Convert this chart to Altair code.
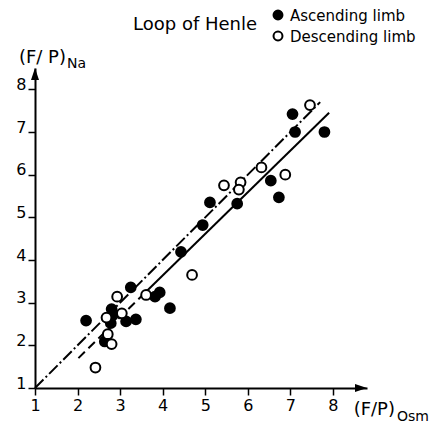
import altair as alt
import pandas as pd

# Ascending limb (filled circles)
asc_x = [2.20, 3.25, 2.80, 2.83, 2.78, 3.14, 3.37, 3.82, 3.93, 4.17, 2.64,
         4.43, 4.94, 5.11, 5.75, 6.54, 6.73, 7.05, 7.11, 7.80]
asc_y = [2.58, 3.36, 2.85, 2.71, 2.52, 2.56, 2.61, 3.14, 3.24, 2.87, 2.09,
         4.19, 4.82, 5.35, 5.32, 5.86, 5.47, 7.42, 7.00, 7.00]

# Descending limb (open circles)
desc_x = [2.42, 2.93, 3.61, 2.68, 3.04, 2.71, 2.80, 4.69, 5.44, 5.83, 5.79,
          6.32, 6.88, 7.46]
desc_y = [1.48, 3.14, 3.18, 2.65, 2.75, 2.26, 2.03, 3.65, 5.75, 5.82, 5.65,
          6.17, 6.00, 7.63]

# Line of identity (dash-dot) and fitted line (dashed part, then solid part)
ident_x = [1.0, 7.7]
ident_y = [1.0, 7.7]
fit_dash_x = [2.02, 3.50]
fit_dash_y = [1.70, 3.15]
fit_solid_x = [3.50, 7.91]
fit_solid_y = [3.15, 7.45]

ticks = [1, 2, 3, 4, 5, 6, 7, 8]
x_domain = [1, 8.8]
y_domain = [1, 8.5]

FONT = "DejaVu Sans"

points = pd.DataFrame({
    "x": asc_x + desc_x,
    "y": asc_y + desc_y,
    "limb": ["Ascending limb"] * len(asc_x) + ["Descending limb"] * len(desc_x),
})


def xenc():
    return alt.X("x:Q", scale=alt.Scale(domain=x_domain, nice=False, zero=False),
                 axis=alt.Axis(values=ticks, title=None, grid=False, tickSize=7,
                               tickWidth=1.5, domainWidth=2, labelPadding=2,
                               labelFontSize=16, labelFont=FONT,
                               labelColor="black", domainColor="black",
                               tickColor="black", labelFlush=False))


def yenc():
    return alt.Y("y:Q", scale=alt.Scale(domain=y_domain, nice=False, zero=False),
                 axis=alt.Axis(values=ticks, title=None, grid=False, tickSize=7,
                               tickWidth=1.5, domainWidth=2, labelPadding=2,
                               labelFontSize=16, labelFont=FONT,
                               labelColor="black", domainColor="black",
                               tickColor="black", labelBaseline="alphabetic",
                               labelFlush=False))


def line_layer(xs, ys, dash):
    df = pd.DataFrame({"x": xs, "y": ys})
    mk = dict(color="black", strokeWidth=2)
    if dash:
        mk["strokeDash"] = dash
    return alt.Chart(df).mark_line(**mk).encode(x=xenc(), y=yenc())


identity = line_layer(ident_x, ident_y, [12, 3, 2, 3])
fit_dash = line_layer(fit_dash_x, fit_dash_y, [9, 5])
fit_solid = line_layer(fit_solid_x, fit_solid_y, None)

dots = alt.Chart(points).mark_point(shape="circle", size=95, strokeWidth=2,
                                    stroke="black", opacity=1, fillOpacity=1).encode(
    x=xenc(), y=yenc(),
    fill=alt.Fill("limb:N", scale=alt.Scale(domain=["Ascending limb", "Descending limb"],
                                            range=["black", "white"]), legend=None),
)

# Arrowheads at the ends of both axes
arrow_up = alt.Chart(pd.DataFrame({"x": [x_domain[0]], "y": [y_domain[1]]})).mark_point(
    shape="M0,0L1,3L-1,3Z", size=64, filled=True, color="black", opacity=1
).encode(x=xenc(), y=yenc())
arrow_right = alt.Chart(pd.DataFrame({"x": [x_domain[1]], "y": [y_domain[0]]})).mark_point(
    shape="M0,0L-3,-1L-3,1Z", size=64, filled=True, color="black", opacity=1
).encode(x=xenc(), y=yenc())


def label(text, x, y, size, align="left"):
    return alt.Chart(pd.DataFrame({"t": [text]})).mark_text(
        font=FONT, fontSize=size, color="black", align=align, baseline="alphabetic"
    ).encode(text="t:N", x=alt.value(x), y=alt.value(y))


def legend_dot(x, y, fill):
    return alt.Chart(pd.DataFrame({"t": [0]})).mark_point(
        shape="circle", size=80, strokeWidth=2, stroke="black", fill=fill,
        opacity=1, fillOpacity=1
    ).encode(x=alt.value(x), y=alt.value(y))


texts = [
    label("Loop of Henle", 98, -38, 18),
    label("Ascending  limb", 255, -47, 15),
    label("Descending  limb", 255, -26, 15),
    label("(F/ P)", 31, -5, 18, align="right"),
    label("Na", 32, 0, 14),
    label("(F/P)", 360, 347, 18, align="right"),
    label("Osm", 362, 353, 14),
]

chart = alt.layer(
    identity, fit_dash, fit_solid, dots, arrow_up, arrow_right,
    legend_dot(243, -53, "black"), legend_dot(243, -32, "white"),
    *texts
).properties(
    width=332, height=320,
    autosize=alt.AutoSizeParams(type="none"),
    padding={"left": 35, "top": 68, "right": 67, "bottom": 38},
    background="white",
).configure_view(stroke=None)

chart.save("out.html", embed_options={"renderer": "svg", "actions": False})
